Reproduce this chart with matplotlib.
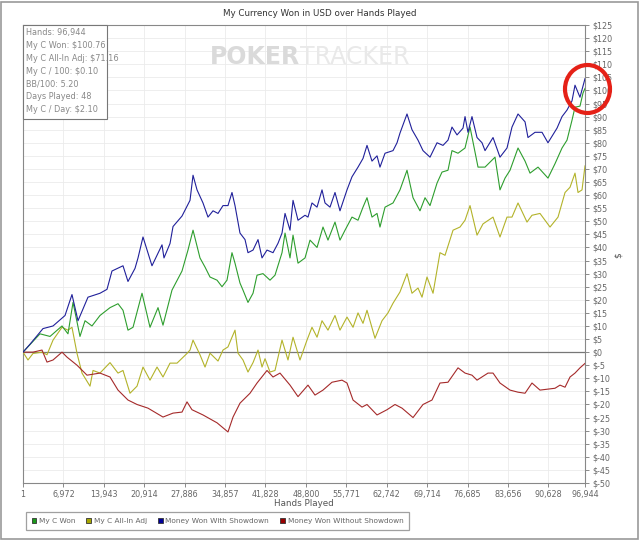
import matplotlib
matplotlib.use("Agg")
import matplotlib.pyplot as plt
from matplotlib.patches import Rectangle, Ellipse, Patch
from matplotlib.ticker import FixedLocator, FuncFormatter

# ---------------- data (hands in thousands, dollars) ----------------
blue_h = [0.0, 1.2, 3.45, 5.18, 7.25, 8.45, 9.49, 11.21, 13.28, 14.49, 15.35, 17.25, 18.11, 19.32, 19.84,
          20.7, 22.25, 23.98, 24.32, 25.36, 25.88, 27.43, 28.81, 29.33, 30.02, 31.05, 31.91, 32.78, 33.64,
          34.5, 35.36, 36.05, 36.57, 37.43, 38.3, 38.81, 39.68, 40.54, 41.23, 42.09, 43.13, 43.99, 44.68,
          45.2, 46.06, 46.58, 47.44, 48.65, 49.16, 49.85, 50.72, 51.58, 52.1, 52.96, 53.82, 54.68, 55.89,
          56.75, 57.79, 58.65, 59.34, 60.2, 61.07, 61.58, 62.45, 63.83, 64.52, 65.03, 66.24, 67.1, 68.14,
          69.0, 70.21, 71.42, 72.45, 73.31, 74.0, 74.87, 75.9, 76.25, 76.76, 77.45, 78.32, 79.18, 79.7,
          81.08, 82.28, 83.49, 84.35, 85.39, 86.6, 87.11, 88.32, 89.53, 90.56, 92.12, 92.98, 93.84, 94.7,
          95.22, 96.08, 96.944]
blue_v = [0, 3, 9, 10, 14, 22, 12, 21, 22.5, 24, 31, 33, 27, 32, 36,
          44, 33, 41, 36, 41.5, 48, 52, 58, 67.6, 62, 57, 51.6, 54, 53,
          56, 56, 61, 56, 45.5, 43, 38, 39, 43, 36, 39, 38, 41.6, 45.5,
          53, 46.6, 58, 50.4, 52.3, 51.6, 57, 55.4, 62, 57, 55.4, 61, 54, 62,
          67, 70.7, 74, 79, 73, 75, 70.7, 76, 77, 80, 83.7, 91, 85, 81,
          77, 74.5, 80, 79, 81, 86, 83, 85.6, 90, 84, 90, 82, 80, 77,
          82, 74.5, 78, 86, 91, 88, 82, 84, 84, 80, 85.6, 90, 92.5, 96,
          102, 97.4, 104.5]

green_h = [0.0, 2.93, 4.66, 6.73, 7.76, 8.63, 9.83, 10.7, 11.9, 13.28, 15.01, 16.39, 17.25, 18.11, 18.98,
           20.53, 21.91, 23.29, 24.15, 25.7, 27.43, 28.46, 29.33, 30.53, 31.4, 32.26, 33.47, 34.33, 35.19,
           36.05, 36.57, 37.43, 37.95, 38.81, 39.68, 40.37, 41.4, 42.61, 43.47, 44.68, 45.2, 46.06, 46.58,
           47.44, 48.65, 49.51, 50.72, 51.75, 52.61, 53.82, 54.68, 55.55, 56.75, 57.79, 58.65, 59.34, 60.2,
           61.07, 61.58, 62.45, 63.83, 65.03, 66.24, 67.28, 68.48, 69.35, 70.21, 71.42, 72.28, 73.31, 74.0,
           75.04, 76.25, 77.11, 78.49, 79.7, 81.42, 82.28, 83.15, 84.01, 85.39, 86.6, 87.46, 88.84, 90.56,
           91.77, 92.98, 93.84, 94.7, 95.22, 96.08, 96.6, 96.944]
green_v = [0, 7, 6, 10, 7, 19, 6, 12, 10, 14, 17, 18.5, 16, 8.4, 9.5,
           22.5, 9.5, 17, 10.3, 23.7, 31, 39, 46.6, 36, 32.5, 28.7, 27.5, 25, 27.5,
           38, 34, 26.4, 23.7, 19, 22.5, 29.4, 30, 27.5, 29.4, 38, 45.5, 36, 44.7,
           34, 36, 42.8, 40, 47.8, 42.8, 49.7, 42.8, 46.6, 51.6, 50.4, 55.4, 59, 51.6,
           53, 47.8, 55.4, 57, 62, 69.5, 59, 54, 59, 56, 64.6, 68.8, 69.5, 77,
           76, 78, 86, 70.7, 70.7, 74.5, 62, 66.5, 69.5, 78, 73, 68.4, 70.7, 66.5,
           72, 78, 81, 88.6, 93.6, 94, 99, 100.76]

yellow_h = [0.0, 0.86, 1.73, 3.28, 4.14, 5.18, 6.73, 7.76, 8.45, 9.32, 10.18, 11.56, 12.08, 13.28, 15.01,
            16.39, 17.25, 18.46, 19.67, 20.7, 21.91, 23.12, 24.15, 25.36, 26.57, 28.29, 28.81, 29.33, 30.53,
            31.4, 32.26, 33.64, 34.5, 35.36, 36.05, 36.57, 37.09, 37.95, 38.81, 39.68, 40.54, 41.23, 41.75,
            42.61, 43.47, 44.68, 45.71, 46.58, 47.78, 48.99, 49.85, 50.72, 51.58, 52.61, 53.82, 54.68, 55.89,
            56.93, 57.79, 58.65, 59.34, 60.72, 61.93, 62.96, 63.83, 65.03, 66.24, 67.1, 68.14, 68.83, 69.69,
            70.73, 71.93, 72.8, 74.18, 75.38, 76.25, 77.11, 78.32, 79.35, 81.08, 82.28, 83.49, 84.35, 85.39,
            86.94, 87.8, 89.18, 90.91, 92.29, 93.5, 94.36, 95.22, 95.74, 96.43, 96.944]
yellow_v = [0, -3, -0.5, 0, -1, 4.6, 9.5, 8.4, 9.5, -0.5, -8, -13, -7, -8, -4,
            -8, -7, -15.7, -13, -5.7, -10.7, -5.7, -9.5, -4.2, -4.2, -0.5, 0.8, 4.6, -1,
            -5.7, -0.4, -3.4, 0.8, 2, 5.7, 8.4, -0.4, -3, -7.6, -4, 0.8, -5.7, -2.5,
            -7.6, -7, 4.6, -3, 5.7, -3, 4.6, 9.5, 5.7, 12, 8.4, 14, 8.4, 13.4,
            9.5, 15, 11, 16, 5.3, 12, 15, 18.7, 23, 30, 22.5, 24.5, 21, 28.7,
            22.5, 38, 37, 46.6, 47.8, 50.4, 56, 44.7, 49, 51.6, 44, 51.6, 51.6, 57,
            49.7, 52.3, 53, 47.8, 51.6, 61, 63, 68.4, 61, 62, 71.16]

red_h = [0.0, 1.73, 3.28, 4.14, 5.18, 6.73, 7.59, 9.32, 11.04, 13.28, 15.01, 16.39, 18.11, 19.67, 21.56,
         24.15, 25.88, 27.43, 28.29, 29.15, 31.05, 33.47, 35.36, 36.23, 37.43, 39.16, 40.37, 42.09, 43.13,
         44.33, 46.06, 47.44, 49.16, 50.37, 51.75, 53.3, 55.03, 55.89, 56.93, 58.48, 59.34, 61.07, 62.79,
         64.17, 65.38, 67.28, 69.0, 70.55, 71.93, 73.31, 75.04, 76.25, 77.45, 78.32, 80.21, 81.08, 82.28,
         84.01, 85.39, 86.6, 87.8, 89.18, 91.77, 92.63, 93.5, 94.36, 95.22, 96.08, 96.944]
red_v = [0, 0, 0.8, -3.8, -3, 0, -1.9, -5, -8.8, -8, -9.5, -14.5, -18.3, -20, -21.4,
         -24.8, -23.3, -22.9, -19, -22, -24, -27, -30.5, -24.8, -19.5, -15.7, -11.8, -7, -9.5,
         -8, -12.6, -17, -12.6, -16.4, -14.5, -11.5, -10.7, -11.8, -18.3, -21, -20, -24, -22,
         -20, -21.4, -25, -20, -18.3, -11.8, -11.5, -6, -8, -8.8, -10.7, -8, -8, -11.8,
         -14.5, -15.3, -15.7, -11.8, -14.5, -13.8, -12.6, -13.4, -9.5, -8, -6, -4.3]

x_ticks = [1, 6972, 13943, 20914, 27886, 34857, 41828, 48800, 55771, 62742, 69714, 76685, 83656, 90628, 96944]
stats_lines = ["Hands: 96,944", "My C Won: $100.76", "My C All-In Adj: $71.16", "My C / 100: $0.10",
               "BB/100: 5.20", "Days Played: 48", "My C / Day: $2.10"]
series_names = ["My C Won", "My C All-In Adj", "Money Won With Showdown", "Money Won Without Showdown"]

# ---------------- figure ----------------
plt.rcParams['font.family'] = ['DejaVu Sans']
W, H = 640, 541
fig = plt.figure(figsize=(W / 100, H / 100), dpi=100)
fig.patch.set_facecolor('white')

def fx(px):
    return px / W

def fy(py):
    return 1 - py / H

ax = fig.add_axes([fx(23), fy(483), fx(585) - fx(23), fy(25) - fy(483)])

def k2h(lst):
    return [v * 1000 if v > 0 else 1 for v in lst]

col_green = '#2e9e2e'
col_yellow = '#b3b32a'
col_blue = '#20209a'
col_red = '#a52a2a'

ax.plot(k2h(green_h), green_v, color=col_green, lw=0.8, zorder=4)
ax.plot(k2h(yellow_h), yellow_v, color=col_yellow, lw=0.8, zorder=3)
ax.plot(k2h(red_h), red_v, color=col_red, lw=0.8, zorder=3)
ax.plot(k2h(blue_h), blue_v, color=col_blue, lw=0.8, zorder=5)

ax.axhline(0, color='#777777', lw=0.9, zorder=2)

ax.set_xlim(1, 96944)
ax.set_ylim(-50, 125)
ax.xaxis.set_major_locator(FixedLocator(x_ticks))
ax.xaxis.set_major_formatter(FuncFormatter(lambda v, p: f"{int(round(v)):,}"))
ax.yaxis.tick_right()
ax.yaxis.set_label_position('right')
ax.yaxis.set_major_locator(FixedLocator(list(range(-50, 126, 5))))
ax.yaxis.set_major_formatter(FuncFormatter(lambda v, p: f"${int(round(v))}"))
ax.tick_params(axis='both', labelsize=5.8, colors='#777777', labelcolor='#666666', length=3, width=0.6)
ax.tick_params(axis='y', pad=2)
ax.tick_params(axis='x', pad=2)
ax.grid(True, color='#ebebeb', lw=0.6, zorder=0)
ax.set_axisbelow(True)
for s in ax.spines.values():
    s.set_color('#888888')
    s.set_linewidth(0.8)

fig.text(fx(304), fy(503), "Hands Played", ha='center', va='center', fontsize=6.3, color='#555555')
fig.text(fx(618), fy(255), "$", ha='center', va='center', fontsize=6.5, color='#555555', rotation=90)
fig.text(fx(320), fy(14), "My Currency Won in USD over Hands Played", ha='center', va='center',
         fontsize=6.3, color='#333333')

# watermark
fig.text(fx(210), fy(57), "POKER", ha='left', va='center', fontsize=17, fontweight='bold',
         color='#dadada', zorder=1)
fig.text(fx(300), fy(57), "TRACKER", ha='left', va='center', fontsize=17,
         color='#e9e9e9', zorder=1)

# stats box
box = Rectangle((fx(23), fy(119)), fx(107) - fx(23), fy(25) - fy(119), transform=fig.transFigure,
                facecolor='white', edgecolor='#777777', lw=0.8, zorder=6)
fig.add_artist(box)
for i, line in enumerate(stats_lines):
    fig.text(fx(26), fy(33 + i * 12.7), line, ha='left', va='center', fontsize=5.9, color='#888888', zorder=7)

# legend
handles = [Patch(facecolor=c, edgecolor='#333333', lw=0.6) for c in ['#1a9a1a', '#a6a600', '#000099', '#990000']]
leg = fig.legend(handles, series_names, loc='upper left', bbox_to_anchor=(fx(22), fy(508)), ncol=4,
                 fontsize=5.3, frameon=True, fancybox=False, handlelength=0.65, handleheight=0.7,
                 handletextpad=0.35, columnspacing=1.5, borderpad=0.8, labelcolor='#666666')
leg.get_frame().set_edgecolor('#888888')
leg.get_frame().set_linewidth(0.9)

# outer frame
fig.add_artist(Rectangle((fx(1), fy(539)), fx(638) - fx(1), fy(2) - fy(539), transform=fig.transFigure,
                         facecolor='none', edgecolor='#999999', lw=1.2))

# red circle annotation
fig.add_artist(Ellipse((fx(587.5), fy(89)), fx(45), 48 / H, transform=fig.transFigure,
                       facecolor='none', edgecolor='#e52117', lw=3, zorder=10))

fig.savefig('out.png', dpi=100)
